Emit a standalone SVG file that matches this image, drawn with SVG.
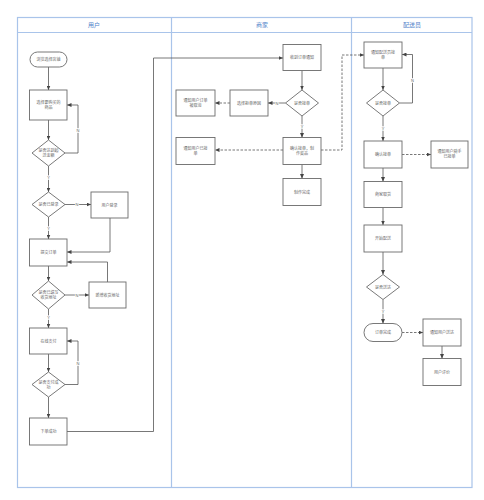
<svg xmlns="http://www.w3.org/2000/svg" width="484" height="500" viewBox="0 0 484 500">
<style>
.lane{fill:none;stroke:#a9c4ea;stroke-width:1.2}
.hd{font-family:"Noto Sans CJK SC","Liberation Sans",sans-serif;font-size:6px;fill:#4f82c9;text-anchor:middle}
.n{fill:#fff;stroke:#6a6a6a;stroke-width:0.9}
.t{font-family:"Noto Sans CJK SC","Liberation Sans",sans-serif;font-size:4px;fill:#666;text-anchor:middle}
.c{fill:none;stroke:#555;stroke-width:0.8}
.d{stroke-dasharray:2.5,1.5}
.lb{font-family:"Liberation Sans",sans-serif;font-size:4px;fill:#666;text-anchor:middle;stroke:#fff;stroke-width:1.5;paint-order:stroke}
</style>
<defs>
<marker id="a" markerUnits="userSpaceOnUse" markerWidth="5" markerHeight="4" refX="4.5" refY="2" orient="auto"><path d="M0,0 L4.5,2 L0,4 Z" fill="#444"/></marker>
</defs>
<rect width="484" height="500" fill="#fff"/>
<g id="lanes">
<rect class="lane" x="17.5" y="17.5" width="454.5" height="470"/>
<line class="lane" x1="17.5" y1="32.5" x2="472" y2="32.5"/>
<line class="lane" x1="171.5" y1="17.5" x2="171.5" y2="487.5"/>
<line class="lane" x1="351.5" y1="17.5" x2="351.5" y2="487.5"/>
<text class="hd" x="94" y="27">用户</text>
<text class="hd" x="262" y="27">商家</text>
<text class="hd" x="412" y="27">配送员</text>
</g>
<g id="connectors">
<path class="c" d="M48.5,67 V90" marker-end="url(#a)"/>
<path class="c" d="M48.5,120 V140" marker-end="url(#a)"/>
<path class="c" d="M65,153 H78 V105 H67" marker-end="url(#a)"/>
<text class="lb" x="78" y="131.5">N</text>
<path class="c" d="M48.5,166 V192" marker-end="url(#a)"/>
<text class="lb" x="48.5" y="178.5">Y</text>
<path class="c" d="M65,204.5 H91" marker-end="url(#a)"/>
<text class="lb" x="77" y="206">N</text>
<path class="c" d="M48.5,217 V239" marker-end="url(#a)"/>
<text class="lb" x="48.5" y="229.5">Y</text>
<path class="c" d="M110,218 V252 H67" marker-end="url(#a)"/>
<path class="c" d="M107.5,282 V262 H67" marker-end="url(#a)"/>
<path class="c" d="M48.5,266 V281" marker-end="url(#a)"/>
<path class="c" d="M65,295 H89" marker-end="url(#a)"/>
<text class="lb" x="77" y="296.5">N</text>
<path class="c" d="M48.5,309 V328" marker-end="url(#a)"/>
<text class="lb" x="48.5" y="318.5">Y</text>
<path class="c" d="M48.5,354 V372" marker-end="url(#a)"/>
<path class="c" d="M65,384.5 H78 V341 H67" marker-end="url(#a)"/>
<text class="lb" x="78" y="364.5">N</text>
<path class="c" d="M48.5,397 V418" marker-end="url(#a)"/>
<path class="c" d="M67,431.5 H153.5 V58 H283" marker-end="url(#a)"/>
<path class="c" d="M302,70.5 V90" marker-end="url(#a)"/>
<path class="c" d="M285.5,103 H268" marker-end="url(#a)"/>
<text class="lb" x="277" y="104.5">N</text>
<path class="c d" d="M230,103 H215" marker-end="url(#a)"/>
<path class="c" d="M302,116 V137.5" marker-end="url(#a)"/>
<text class="lb" x="302" y="127.5">Y</text>
<path class="c d" d="M283,150 H215" marker-end="url(#a)"/>
<path class="c d" d="M321,150 H342 V55 H364" marker-end="url(#a)"/>
<path class="c" d="M302,164.5 V178.5" marker-end="url(#a)"/>
<path class="c" d="M383,68 V90" marker-end="url(#a)"/>
<path class="c" d="M399.5,103 H412.5 V54.5 H402" marker-end="url(#a)"/>
<text class="lb" x="412.5" y="81.5">N</text>
<path class="c" d="M383,116 V141" marker-end="url(#a)"/>
<text class="lb" x="383" y="129.5">Y</text>
<path class="c d" d="M402,154.5 H431" marker-end="url(#a)"/>
<path class="c" d="M383,168 V181.5" marker-end="url(#a)"/>
<path class="c" d="M383,207.5 V225" marker-end="url(#a)"/>
<path class="c" d="M383,252 V274.5" marker-end="url(#a)"/>
<path class="c" d="M383,299.5 V323.5" marker-end="url(#a)"/>
<text class="lb" x="383" y="312.5">Y</text>
<path class="c d" d="M402,332.5 H423" marker-end="url(#a)"/>
<path class="c" d="M442,346 V358.5" marker-end="url(#a)"/>
</g>
<g id="n1"><rect class="n" x="30" y="52" width="37" height="15" rx="7.5"/><text class="t" x="48.5" y="61">浏览选择店铺</text></g>
<g id="n2"><rect class="n" x="29.5" y="90" width="37.5" height="30"/><text class="t" x="48.5" y="104">选择要购买的</text><text class="t" x="48.5" y="109">商品</text></g>
<g id="n3"><path class="n" d="M48.5,140 L65,153 L48.5,166 L32,153 Z"/><text class="t" x="48.5" y="152">是否达到起</text><text class="t" x="48.5" y="157">送金额</text></g>
<g id="n4"><path class="n" d="M48.5,192 L65,204.5 L48.5,217 L32,204.5 Z"/><text class="t" x="48.5" y="206">是否已登录</text></g>
<g id="n5"><rect class="n" x="91" y="192" width="37" height="26"/><text class="t" x="109.5" y="206.5">用户登录</text></g>
<g id="n6"><rect class="n" x="29.5" y="239" width="37.5" height="27"/><text class="t" x="48.5" y="254">提交订单</text></g>
<g id="n7"><path class="n" d="M48.5,281 L65,295 L48.5,309 L32,295 Z"/><text class="t" x="48.5" y="294">是否已填写</text><text class="t" x="48.5" y="299">收货地址</text></g>
<g id="n8"><rect class="n" x="89" y="282" width="37" height="26"/><text class="t" x="107.5" y="296.5">新增收货地址</text></g>
<g id="n9"><rect class="n" x="29.5" y="328" width="37.5" height="26"/><text class="t" x="48.5" y="342.5">在线支付</text></g>
<g id="n10"><path class="n" d="M48.5,372 L65,384.5 L48.5,397 L32,384.5 Z"/><text class="t" x="48.5" y="383.5">是否支付成</text><text class="t" x="48.5" y="388.5">功</text></g>
<g id="n11"><rect class="n" x="29.5" y="418" width="37.5" height="27"/><text class="t" x="48.5" y="433">下单成功</text></g>
<g id="n12"><rect class="n" x="283" y="44.5" width="38" height="26"/><text class="t" x="302" y="59">收到订单通知</text></g>
<g id="n13"><path class="n" d="M302,90 L318.5,103 L302,116 L285.5,103 Z"/><text class="t" x="302" y="104.5">是否接单</text></g>
<g id="n14"><rect class="n" x="230" y="90" width="38" height="26"/><text class="t" x="249" y="104.5">选择拒单原因</text></g>
<g id="n15"><rect class="n" x="176" y="90" width="39" height="26"/><text class="t" x="195.5" y="102">通知用户订单</text><text class="t" x="195.5" y="107">被取消</text></g>
<g id="n16"><rect class="n" x="283" y="137.5" width="38" height="27"/><text class="t" x="302" y="149.5">确认接单，制</text><text class="t" x="302" y="154.5">作菜品</text></g>
<g id="n17"><rect class="n" x="176" y="137.5" width="39" height="27"/><text class="t" x="195.5" y="149.5">通知用户已接</text><text class="t" x="195.5" y="154.5">单</text></g>
<g id="n18"><rect class="n" x="283" y="178.5" width="38" height="27"/><text class="t" x="302" y="193.5">制作完成</text></g>
<g id="n19"><rect class="n" x="364" y="42" width="38" height="26"/><text class="t" x="383" y="53.5">通知配送员接</text><text class="t" x="383" y="58.5">单</text></g>
<g id="n20"><path class="n" d="M383,90 L399.5,103 L383,116 L366.5,103 Z"/><text class="t" x="383" y="104.5">是否接单</text></g>
<g id="n21"><rect class="n" x="364" y="141" width="38" height="27"/><text class="t" x="383" y="156">确认接单</text></g>
<g id="n22"><rect class="n" x="431" y="141" width="37" height="27"/><text class="t" x="449.5" y="153">通知用户骑手</text><text class="t" x="449.5" y="158">已接单</text></g>
<g id="n23"><rect class="n" x="364" y="181.5" width="38" height="26"/><text class="t" x="383" y="196">商家取货</text></g>
<g id="n24"><rect class="n" x="364" y="225" width="38" height="27"/><text class="t" x="383" y="240">开始配送</text></g>
<g id="n25"><path class="n" d="M383,274.5 L399.5,287 L383,299.5 L366.5,287 Z"/><text class="t" x="383" y="288.5">是否送达</text></g>
<g id="n26"><rect class="n" x="364" y="323.5" width="38" height="18" rx="9"/><text class="t" x="383" y="334">订单完成</text></g>
<g id="n27"><rect class="n" x="423" y="319" width="38" height="27"/><text class="t" x="442" y="334">通知用户送达</text></g>
<g id="n28"><rect class="n" x="423" y="358.5" width="38" height="27"/><text class="t" x="442" y="373.5">用户评价</text></g>
</svg>
